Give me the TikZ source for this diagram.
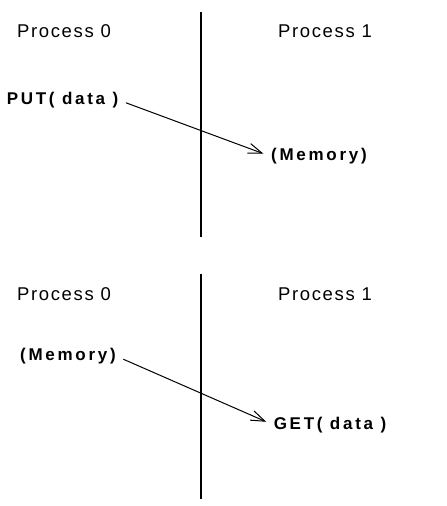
\documentclass[tikz,border=0pt]{standalone}
\usepackage{fontspec}
\setmainfont{Liberation Sans}
\newfontfamily\lblfont[LetterSpace=9]{Liberation Sans}
\newfontfamily\boldlbl[LetterSpace=16]{Liberation Sans Bold}
\usetikzlibrary{arrows.meta}
\begin{document}
\begin{tikzpicture}[x=1pt,y=-1pt,
  proc/.style={font=\lblfont\fontsize{18.5}{20}\selectfont, inner sep=0pt, anchor=center},
  op/.style={font=\boldlbl\fontsize{17}{19}\selectfont, inner sep=0pt, anchor=center},
  divider/.style={line width=1.8pt},
  msg/.style={line width=1pt, -{Straight Barb[length=14pt,width=10pt,line width=1pt]}, shorten <=8pt, shorten >=8pt}]
\useasboundingbox (0,0) rectangle (447,506);
% top panel
\coordinate (t1) at (201,12);
\coordinate (b1) at (201,237);
\draw[divider] (t1) -- (b1);
\node[proc] (p0a) at (64,31) {Process 0};
\node[proc] (p1a) at (325,31) {Process 1};
\node[op] (put) at (62.5,100) {PUT( data )};
\node[op] (mema) at (319,156.5) {(Memory)};
\draw[msg] (put.east) -- (mema.west);
% bottom panel
\coordinate (t2) at (201,274);
\coordinate (b2) at (201,499);
\draw[divider] (t2) -- (b2);
\node[proc] (p0b) at (64,294) {Process 0};
\node[proc] (p1b) at (325,294) {Process 1};
\node[op] (memb) at (68,356) {(Memory)};
\node[op] (get) at (330,425) {GET( data )};
\draw[msg] (memb.east) -- (get.west);
\end{tikzpicture}
\end{document}
